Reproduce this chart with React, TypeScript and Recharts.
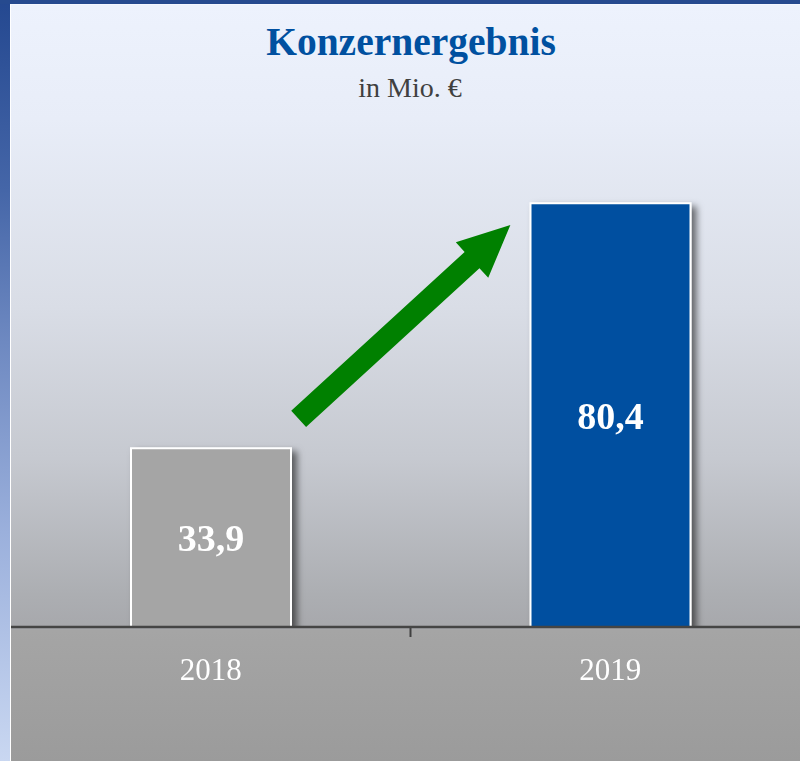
import React from 'react';
import { BarChart, Bar, XAxis, YAxis, Cell, LabelList, ReferenceLine } from 'recharts';

const years = ['2018', '2019'];
const values = [33.9, 80.4];
const barColors = ['#a5a5a5', '#0050a0'];
const slots = [0.5, 1.5];
const title = 'Konzernergebnis';
const subtitle = 'in Mio. €';
// arrow annotation in data coordinates (x on a 0..2 overlay axis, y in Mio. €)
const arrowStart = { x: 0.72, y: 39.5 };
const arrowEnd = { x: 1.25, y: 76.3 };
const midTick = 1;

const data = years.map((y, i) => ({ year: y, value: values[i], slot: slots[i] }));

const SERIF = '"Liberation Serif", "Times New Roman", serif';

const Arrow = (props: any) => {
  const { x1, y1, x2, y2 } = props;
  if (x1 == null || x2 == null) return null;
  const dx = x2 - x1;
  const dy = y2 - y1;
  const len = Math.sqrt(dx * dx + dy * dy);
  const ux = dx / len;
  const uy = dy / len;
  const nx = -uy;
  const ny = ux;
  const shaft = 11;
  const head = 24;
  const headLen = 52;
  const bx = x2 - ux * headLen;
  const by = y2 - uy * headLen;
  const pts = [
    [x1 + nx * shaft, y1 + ny * shaft],
    [bx + nx * shaft, by + ny * shaft],
    [bx + nx * head, by + ny * head],
    [x2, y2],
    [bx - nx * head, by - ny * head],
    [bx - nx * shaft, by - ny * shaft],
    [x1 - nx * shaft, y1 - ny * shaft],
  ];
  return <polygon points={pts.map((p) => p.join(',')).join(' ')} fill="#008000" />;
};

const TickMark = (props: any) => {
  const { x1, y1, y2 } = props;
  if (x1 == null) return null;
  const yb = Math.max(y1, y2);
  return <line x1={x1} x2={x1} y1={yb} y2={yb + 10} stroke="#404040" strokeWidth={2} />;
};

const YearTick = (props: any) => {
  const { x, y, payload } = props;
  return (
    <text x={x} y={y + 53} textAnchor="middle" fill="#ffffff" fontSize={31} fontFamily={SERIF}>
      {payload.value}
    </text>
  );
};

export default function App() {
  return (
    <div style={{ position: 'fixed', left: 0, top: 0, width: 800, height: 761, overflow: 'hidden' }}>
      <div
        style={{
          position: 'absolute', left: 0, top: 0, width: 10, height: 761,
          background: 'linear-gradient(to bottom, #244890 0%, #4566a8 25%, #6e89c1 45%, #9bb0dc 70%, #c9d7f1 100%)',
        }}
      />
      <div style={{ position: 'absolute', left: 0, top: 0, width: 800, height: 4, background: '#264a8f' }} />
      <div
        style={{
          position: 'absolute', left: 10, top: 4, width: 790, height: 757,
          borderLeft: '1px solid #ffffff', borderTop: '1px solid #f4f7ff', boxSizing: 'border-box',
          background:
            'linear-gradient(to bottom, #edf2fd 0%, #e8edf8 15%, #d9dde6 40%, #c6c9d0 60%, #acaeb2 78%, #a7a8ac 82.5%, #a5a5a5 82.7%, #9b9b9b 100%)',
        }}
      />
      <svg width={800} height={120} style={{ position: 'absolute', left: 0, top: 0 }}>
        <text x={411} y={55} textAnchor="middle" fill="#0050a0" fontSize={39.5} fontWeight="bold" fontFamily={SERIF}>
          {title}
        </text>
        <text x={410} y={97} textAnchor="middle" fill="#404040" fontSize={28} fontFamily={SERIF}>
          {subtitle}
        </text>
      </svg>
      <div style={{ position: 'absolute', left: 0, top: 0 }}>
        <BarChart width={810} height={761} data={data} margin={{ top: 100, right: 0, left: 11, bottom: 0 }}>
          <defs>
            <filter id="barShadow" x="-20%" y="-20%" width="150%" height="150%">
              <feDropShadow dx="5" dy="4" stdDeviation="3.5" floodColor="#000000" floodOpacity="0.55" />
            </filter>
          </defs>
          <YAxis hide domain={[0, 100]} allowDataOverflow />
          <XAxis
            dataKey="year"
            height={134}
            tickLine={false}
            tickSize={0}
            tickMargin={0}
            axisLine={{ stroke: '#454545', strokeWidth: 2.5 }}
            tick={<YearTick />}
            interval={0}
          />
          <XAxis xAxisId="num" dataKey="slot" type="number" domain={[0, 2]} allowDataOverflow hide />
          <Bar dataKey="value" barSize={160} isAnimationActive={false} stroke="#ffffff" strokeWidth={2}>
            {data.map((d, i) => (
              <Cell key={d.year} fill={barColors[i]} filter="url(#barShadow)" />
            ))}
            <LabelList
              dataKey="value"
              position="center"
              fill="#ffffff"
              fontSize={38}
              fontWeight="bold"
              fontFamily={SERIF}
              formatter={(v: any) => Number(v).toFixed(1).replace('.', ',')}
            />
          </Bar>
          <ReferenceLine xAxisId="num" x={midTick} ifOverflow="visible" shape={(p: any) => <TickMark {...p} />} />
          <ReferenceLine
            xAxisId="num"
            ifOverflow="visible"
            segment={[arrowStart, arrowEnd]}
            shape={(p: any) => <Arrow {...p} />}
          />
        </BarChart>
      </div>
    </div>
  );
}
